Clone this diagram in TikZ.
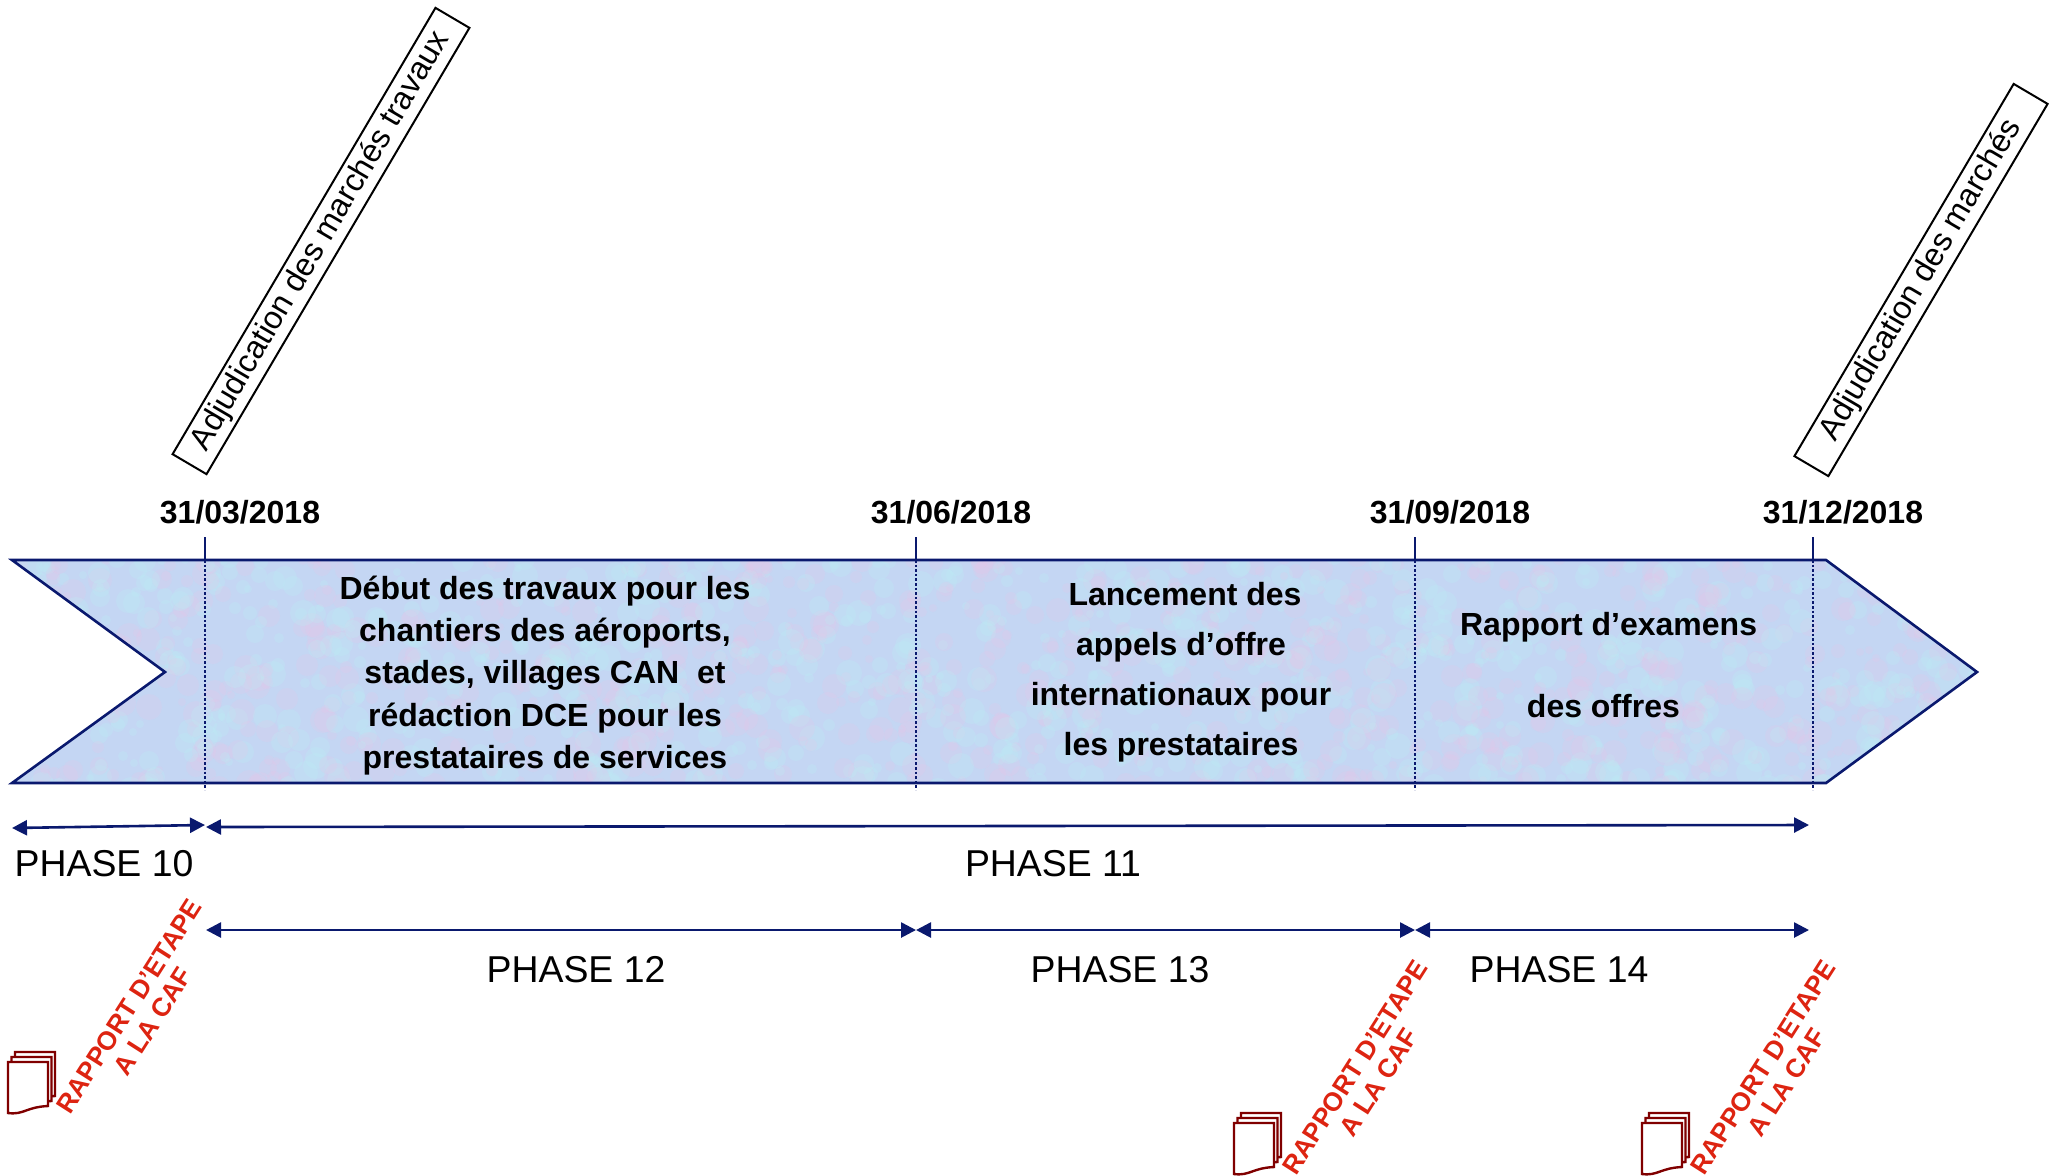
\documentclass[tikz,border=0pt]{standalone}
\usepackage{fontspec}
\setmainfont{Liberation Sans}
\usetikzlibrary{arrows.meta}
\definecolor{cafnavy}{RGB}{10,25,110}
\definecolor{cafred}{RGB}{221,36,17}
\definecolor{cafdoc}{RGB}{128,0,0}
\definecolor{cafblue}{RGB}{196,214,243}
\definecolor{cafpink}{RGB}{234,196,232}
\definecolor{cafcyan}{RGB}{188,238,244}
\newcommand{\caftick}[2] {\coordinate (#2top) at (#1,537); \coordinate (#2in) at (#1,560); \coordinate (#2low) at (#1,790); \draw [navyline] (#2top) -- (#2in); \draw [navyline, densely dotted] (#2in) -- (#2low);}
\newcommand{\cafspan}[2] {\draw [phasearrow] (#1) -- (#2);}
\newcommand{\cafsheet}[2] {\draw [sheet] (8+#1,1062-#2) -- ++(40,0) -- ++(0,44) .. controls +(-22,1) and +(16,2) .. ++(-40,7) -- cycle;}
\newcommand{\cafreport}[3] {
\begin{scope}[shift={(#1,#2)}]
\cafsheet{7}{10} \cafsheet{3.5}{5} \cafsheet{0}{0}
\end{scope}
\node at (#1+141,#2+1014) (#3) [report] {RAPPORT D’ETAPE\\A LA CAF};}
\tikzset{
navyline/.style={draw=cafnavy, line width=1.3pt},
phasearrow/.style={navyline, {Triangle[length=7.5pt,width=7.5pt]}-{Triangle[length=7.5pt,width=7.5pt]}},
sheet/.style={draw=cafdoc, fill=white, line width=1.2pt},
report/.style={text=cafred, font=\bfseries\fontsize{13.1}{14}\selectfont, align=center, rotate=57.5, inner sep=0pt},
datelabel/.style={font=\bfseries\fontsize{16}{18}\selectfont, inner sep=0pt},
phaselabel/.style={font=\fontsize{18.7}{22}\selectfont, inner sep=0pt},
milestone/.style={draw, line width=1pt, rotate=59.5, font=\fontsize{16}{18}\selectfont, inner sep=0pt, minimum height=19.7pt, align=center}
}
\begin{document}
\begin{tikzpicture}[x=0.5pt, y=-0.5pt]
\useasboundingbox (0,0) rectangle (2060,1175);

% banner
\coordinate (bannerA) at (12,560);
\coordinate (bannerB) at (1826,560);
\coordinate (bannerC) at (1977,672);
\coordinate (bannerD) at (1826,783);
\coordinate (bannerE) at (12,783);
\coordinate (bannerF) at (165,672);
\begin{scope}
\clip (bannerA) -- (bannerB) -- (bannerC) -- (bannerD) -- (bannerE) -- (bannerF) -- cycle;
\fill [cafblue] (0,550) rectangle (2000,800);
\pgfmathsetseed{31}
\foreach \i in {1,...,900} {
  \pgfmathsetmacro{\spotx}{random(0,2000)}
  \pgfmathsetmacro{\spoty}{random(555,790)}
  \pgfmathsetmacro{\spotr}{random(4,13)}
  \fill [cafpink, opacity=0.2] (\spotx,\spoty) circle [radius=\spotr];
  \pgfmathsetmacro{\spotx}{random(0,2000)}
  \pgfmathsetmacro{\spoty}{random(555,790)}
  \fill [cafcyan, opacity=0.25] (\spotx,\spoty) circle [radius=\spotr];
}
\end{scope}
\draw [navyline, line join=miter] (bannerA) -- (bannerB) -- (bannerC) -- (bannerD) -- (bannerE) -- (bannerF) -- cycle;

\caftick{205}{m};
\caftick{916}{j};
\caftick{1415}{s};
\caftick{1813}{d};

\node at (240,512) (date1) [datelabel] {31/03/2018};
\node at (951,512) (date2) [datelabel] {31/06/2018};
\node at (1450,512) (date3) [datelabel] {31/09/2018};
\node at (1843,512) (date4) [datelabel] {31/12/2018};

\node at (545,675.5) (debut) [align=center, inner sep=0pt, font=\bfseries\fontsize{16}{21.2}\selectfont] {Début des travaux pour les\\chantiers des aéroports,\\stades, villages CAN\ \ et\\rédaction DCE pour les\\prestataires de services};
\node at (1181,672) (lancement) [align=center, inner sep=0pt, font=\bfseries\fontsize{16}{25}\selectfont] {\hspace*{4pt}Lancement des\\appels d’offre\\internationaux pour\\les prestataires};
\node at (1606,665) (examens) [align=center, inner sep=0pt, font=\bfseries\fontsize{16}{41}\selectfont] {\hspace*{2.6pt}Rapport d’examens\\des offres\hspace*{2.6pt}};

% phases
\coordinate (p10a) at (12,828);
\coordinate (p10b) at (205,825);
\coordinate (p11a) at (206,827);
\coordinate (p11b) at (1809,825);
\coordinate (p12a) at (206,930);
\coordinate (p12b) at (916,930);
\coordinate (p13b) at (1415,930);
\coordinate (p14b) at (1809,930);
\cafspan{p10a}{p10b};
\cafspan{p11a}{p11b};
\cafspan{p12a}{p12b};
\cafspan{p12b}{p13b};
\cafspan{p13b}{p14b};

\node at (104,864) (phase10) [phaselabel] {PHASE 10};
\node at (1053,864) (phase11) [phaselabel] {PHASE 11};
\node at (576,970) (phase12) [phaselabel] {PHASE 12};
\node at (1120,970) (phase13) [phaselabel] {PHASE 13};
\node at (1559,970) (phase14) [phaselabel] {PHASE 14};

\cafreport{0}{0}{report1};
\cafreport{1226}{61}{report2};
\cafreport{1634}{61}{report3};

\node at (321,241) (travaux) [milestone, minimum width=259pt] {Adjudication des marchés travaux};
\node at (1921,280) (marches) [milestone, minimum width=216pt] {Adjudication des marchés};
\end{tikzpicture}
\end{document}
